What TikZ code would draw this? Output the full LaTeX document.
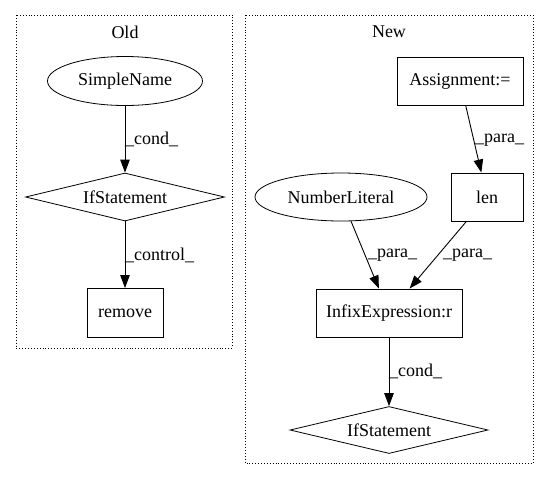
\documentclass[tikz,border=0pt]{standalone}
\usepackage{fontspec}
\setmainfont{Liberation Serif}
\usetikzlibrary{shapes.geometric,arrows.meta}
\begin{document}
\begin{tikzpicture}[x=1pt,y=-1pt,
  every node/.style={font=\fontsize{18}{21}\selectfont, inner sep=0pt},
  cluster/.style={draw, dotted, line width=0.9pt},
  boxnode/.style={draw, rectangle, line width=0.9pt},
  ellnode/.style={draw, ellipse, line width=0.8pt},
  dianode/.style={draw, diamond, line width=0.8pt},
  edge/.style={draw, line width=0.9pt, -{Triangle[length=13pt,width=9.5pt]}},
  lbl/.style={anchor=west}
]
\useasboundingbox (0,0) rectangle (549,480);
% clusters
\draw[cluster] (16,15) rectangle (232,348);
\draw[cluster] (245,15) rectangle (533,463);
\node (oldtitle) at (125,32) {Old};
\node (newtitle) at (389,32) {New};
% Old nodes
\node[ellnode, minimum width=155pt, minimum height=49pt] (sn) at (125,81) {SimpleName};
\node[dianode, minimum width=199pt, minimum height=48pt, aspect=4.1] (if1) at (125,197) {IfStatement};
\node[boxnode, minimum width=76pt, minimum height=49pt] (rm) at (125,313) {remove};
% New nodes
\node[boxnode, minimum width=126pt, minimum height=48pt] (asg) at (460,81) {Assignment:=};
\node[boxnode, minimum width=72pt, minimum height=48pt] (len) at (487,197) {len};
\node[ellnode, minimum width=172pt, minimum height=48pt] (nl) at (341,197) {NumberLiteral};
\node[boxnode, minimum width=146pt, minimum height=48pt] (inf) at (389,313) {InfixExpression:r};
\node[dianode, minimum width=198pt, minimum height=47pt, aspect=4.2] (if2) at (389,430) {IfStatement};
% edges
\draw[edge] (sn) -- (if1);
\draw[edge] (if1) -- (rm);
\draw[edge] (asg) -- (len);
\draw[edge] (nl) -- (inf);
\draw[edge] (len) -- (inf);
\draw[edge] (inf) -- (if2);
% labels
\node[lbl] (l1) at (125,139) {\_cond\_};
\node[lbl] (l2) at (125,255) {\_control\_};
\node[lbl] (l3) at (475,140) {\_para\_};
\node[lbl] (l4) at (368,255) {\_para\_};
\node[lbl] (l5) at (443,255) {\_para\_};
\node[lbl] (l6) at (389,371) {\_cond\_};
\end{tikzpicture}
\end{document}
